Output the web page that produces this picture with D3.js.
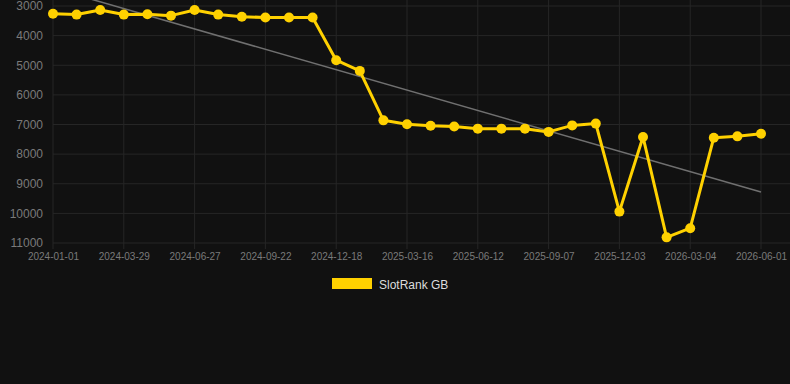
<!DOCTYPE html>
<html>
<head>
<meta charset="utf-8">
<script src="https://cdn.jsdelivr.net/npm/d3@7"></script>
<style>
  html, body { margin: 0; padding: 0; background: #111111; }
  svg { display: block; }
  text { font-family: "Liberation Sans", Arial, Helvetica, sans-serif; }
</style>
</head>
<body>
<svg id="chart" width="790" height="384"></svg>
<script>
// x tick labels, one every 3 points
var tickLabels = ["2024-01-01","2024-03-29","2024-06-27","2024-09-22","2024-12-18",
                  "2025-03-16","2025-06-12","2025-09-07","2025-12-03","2026-03-04","2026-06-01"];

// rank per point (31 points)
var ranks = [3260,3290,3135,3290,3280,3325,3135,3290,3360,3390,3390,3390,
             4830,5190,6860,6990,7040,7070,7140,7140,7140,7250,7030,6970,
             9940,7420,10810,10500,7445,7400,7310];

var yTicks = [3000,4000,5000,6000,7000,8000,9000,10000,11000];
var seriesName = "SlotRank GB";

function main(){
    var svg = d3.select("#chart");

    var left = 53, right = 761, gridRight = 790, top = 6, bottom = 243;

    var xScale = d3.scaleLinear().domain([0, ranks.length - 1]).range([left, right]);
    var yScale = d3.scaleLinear().domain([3000, 11000]).range([top, bottom]);

    var xTickVals = tickLabels.map(function(d, i){ return i * 3; });

    // grid
    var grid = svg.append("g");
    grid.selectAll(".hg").data(yTicks).enter().append("line")
        .attr("x1", left).attr("x2", gridRight)
        .attr("y1", function(d){ return yScale(d); })
        .attr("y2", function(d){ return yScale(d); })
        .attr("stroke", "#262626").attr("stroke-width", 1);
    grid.selectAll(".vg").data(xTickVals).enter().append("line")
        .attr("x1", function(d){ return xScale(d); })
        .attr("x2", function(d){ return xScale(d); })
        .attr("y1", 0).attr("y2", bottom + 6)
        .attr("stroke", "#262626").attr("stroke-width", 1);

    // y axis
    var yAxis = svg.append("g").attr("transform", "translate(" + (left - 10) + ",0)")
        .call(d3.axisLeft(yScale).tickValues(yTicks).tickSize(0).tickPadding(0)
            .tickFormat(d3.format("d")));
    yAxis.select(".domain").remove();
    yAxis.selectAll("text").attr("fill", "#7a7a7a").style("font-size", "12px");

    // x axis
    var xAxis = svg.append("g").attr("transform", "translate(0," + (bottom + 4) + ")")
        .call(d3.axisBottom(xScale).tickValues(xTickVals).tickSize(0).tickPadding(6)
            .tickFormat(function(d){ return tickLabels[d / 3]; }));
    xAxis.select(".domain").remove();
    xAxis.selectAll("text").attr("fill", "#7a7a7a").style("font-size", "10px");

    // trend line (least squares)
    var n = ranks.length;
    var mx = d3.mean(ranks, function(d, i){ return i; });
    var my = d3.mean(ranks);
    var sxy = d3.sum(ranks, function(d, i){ return (i - mx) * (d - my); });
    var sxx = d3.sum(ranks, function(d, i){ return (i - mx) * (i - mx); });
    var slope = sxy / sxx, icpt = my - slope * mx;
    var trend = [0, n - 1].map(function(i){ return {i: i, v: icpt + slope * i}; });

    svg.append("clipPath").attr("id", "plotclip").append("rect")
        .attr("x", 0).attr("y", 0).attr("width", 790).attr("height", bottom + 10);

    svg.append("path").datum(trend)
        .attr("clip-path", "url(#plotclip)")
        .attr("fill", "none").attr("stroke", "#707070").attr("stroke-width", 1.5)
        .attr("d", d3.line().x(function(d){ return xScale(d.i); }).y(function(d){ return yScale(d.v); }));

    // series
    svg.append("path").datum(ranks)
        .attr("fill", "none").attr("stroke", "#FFD100").attr("stroke-width", 3)
        .attr("stroke-linejoin", "round")
        .attr("d", d3.line().x(function(d, i){ return xScale(i); }).y(function(d){ return yScale(d); }));

    svg.selectAll(".pt").data(ranks).enter().append("circle")
        .attr("cx", function(d, i){ return xScale(i); })
        .attr("cy", function(d){ return yScale(d); })
        .attr("r", 5)
        .attr("fill", "#FFD100");

    // legend
    svg.append("rect").attr("x", 332).attr("y", 278).attr("width", 40).attr("height", 11)
        .attr("fill", "#FFD100");
    svg.append("text").attr("x", 379).attr("y", 288.5)
        .attr("fill", "#dddddd").style("font-size", "12px").text(seriesName);
}

main();
</script>
</body>
</html>
